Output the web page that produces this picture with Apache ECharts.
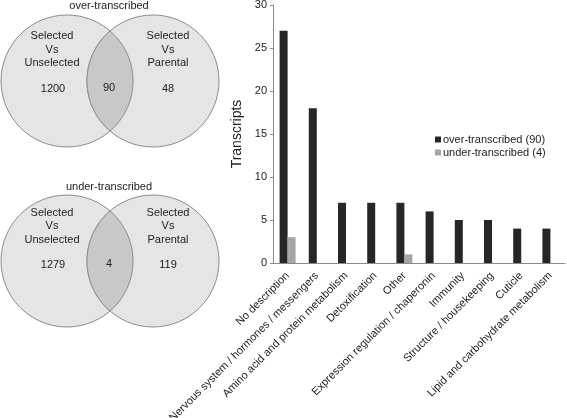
<!DOCTYPE html>
<html>
<head>
<meta charset="utf-8">
<script src="https://cdn.jsdelivr.net/npm/echarts@6/dist/echarts.min.js"></script>
<style>
html,body{margin:0;padding:0;background:#fff;}
#chart{width:567px;height:418px;}
</style>
</head>
<body>
<div id="chart"></div>
<script>
// ---- data ----
var categories = [
  'No description',
  'Nervous system / hormones / messengers',
  'Amino acid and protein metabolism',
  'Detoxification',
  'Other',
  'Expression regulation / chaperonin',
  'Immunity',
  'Structure / housekeeping',
  'Cuticle',
  'Lipid and carbohydrate metabolism'
];
var overValues  = [27, 18, 7, 7, 7, 6, 5, 5, 4, 4];
var underValues = [3, 0, 0, 0, 1, 0, 0, 0, 0, 0];
var seriesNames = ['over-transcribed (90)', 'under-transcribed (4)'];

var vennTitles = ['over-transcribed', 'under-transcribed'];
var vennLeftLabel = ['Selected', 'Vs', 'Unselected'];
var vennRightLabel = ['Selected', 'Vs', 'Parental'];
var vennLeftCounts = [1200, 1279];
var vennMidCounts = [90, 4];
var vennRightCounts = [48, 119];

// ---- Venn graphics ----
var FONT = 'Liberation Sans, Arial, sans-serif';
var R = 66;
var vennLayouts = [
  {cy: 81, titleY: 6, textY: [36, 50, 63], numY: 89},
  {cy: 261, titleY: 187, textY: [213, 226, 240], numY: 265}
];
var graphics = [];
function txt(x, y, s) {
  return {type: 'text', x: x, y: y, style: {text: String(s), fill: '#222', font: '11px ' + FONT, textAlign: 'center', textVerticalAlign: 'middle'}, z: 10};
}
vennLayouts.forEach(function (L, i) {
  var lx = 67, rx = 153, cy = L.cy;
  var d = (rx - lx) / 2;
  var h = Math.sqrt(R * R - d * d);
  var a0 = Math.asin(h / R);
  graphics.push({type: 'circle', shape: {cx: lx, cy: cy, r: R}, style: {fill: '#e5e5e5', stroke: '#8c8c8c', lineWidth: 1}, z: 1});
  graphics.push({type: 'circle', shape: {cx: rx, cy: cy, r: R}, style: {fill: '#e5e5e5', stroke: '#8c8c8c', lineWidth: 1}, z: 2});
  // lens outline: arc of left circle (right side) then arc of right circle (left side)
  var pts = [];
  var N = 40;
  for (var j = 0; j <= N; j++) {
    var a = -a0 + 2 * a0 * j / N;
    pts.push([lx + R * Math.cos(a), cy + R * Math.sin(a)]);
  }
  for (var j2 = 0; j2 <= N; j2++) {
    var b = Math.PI - a0 + 2 * a0 * j2 / N;
    pts.push([rx + R * Math.cos(b), cy + R * Math.sin(b)]);
  }
  graphics.push({type: 'polygon', shape: {points: pts}, style: {fill: '#c8c8c8', stroke: '#8c8c8c', lineWidth: 1}, z: 3});
  graphics.push(txt(109, L.titleY, vennTitles[i]));
  for (var k = 0; k < 3; k++) {
    graphics.push(txt(52, L.textY[k], vennLeftLabel[k]));
    graphics.push(txt(168, L.textY[k], vennRightLabel[k]));
  }
  graphics.push(txt(53, L.numY, vennLeftCounts[i]));
  graphics.push(txt(109, L.numY - 1, vennMidCounts[i]));
  graphics.push(txt(168, L.numY, vennRightCounts[i]));
});

var chart = echarts.init(document.getElementById('chart'), null, {renderer: 'canvas'});
chart.setOption({
  animation: false,
  backgroundColor: '#fff',
  textStyle: {fontFamily: FONT},
  graphic: graphics,
  legend: {
    orient: 'vertical',
    left: 430, top: 128,
    itemWidth: 6, itemHeight: 6, itemGap: 0,
    icon: 'rect',
    textStyle: {fontSize: 11, color: '#222', fontFamily: FONT, padding: [0, 0, 0, -3], lineHeight: 13},
    data: seriesNames
  },
  grid: {left: 273, right: 2, top: 5, bottom: 155, containLabel: false, outerBoundsMode: 'none'},
  xAxis: {
    type: 'category',
    data: categories,
    axisLine: {lineStyle: {color: '#8c8c8c', width: 1}},
    axisTick: {show: false},
    axisLabel: {rotate: 45, fontSize: 11, color: '#222', fontFamily: FONT, interval: 0, margin: 11}
  },
  yAxis: {
    type: 'value',
    min: 0, max: 30, interval: 5,
    name: 'Transcripts',
    nameLocation: 'middle',
    nameGap: 25,
    nameTextStyle: {fontSize: 14, color: '#222', fontFamily: FONT},
    axisLine: {show: true, lineStyle: {color: '#8c8c8c', width: 1}},
    axisTick: {show: true, length: 3, lineStyle: {color: '#8c8c8c'}},
    splitLine: {show: false},
    axisLabel: {fontSize: 11, color: '#222', fontFamily: FONT, margin: 6}
  },
  series: [
    {name: seriesNames[0], type: 'bar', data: overValues, barWidth: 8, barGap: '0%', itemStyle: {color: '#262626'}},
    {name: seriesNames[1], type: 'bar', data: underValues, barWidth: 8, barGap: '0%', itemStyle: {color: '#a6a6a6'}}
  ]
});
</script>
</body>
</html>
